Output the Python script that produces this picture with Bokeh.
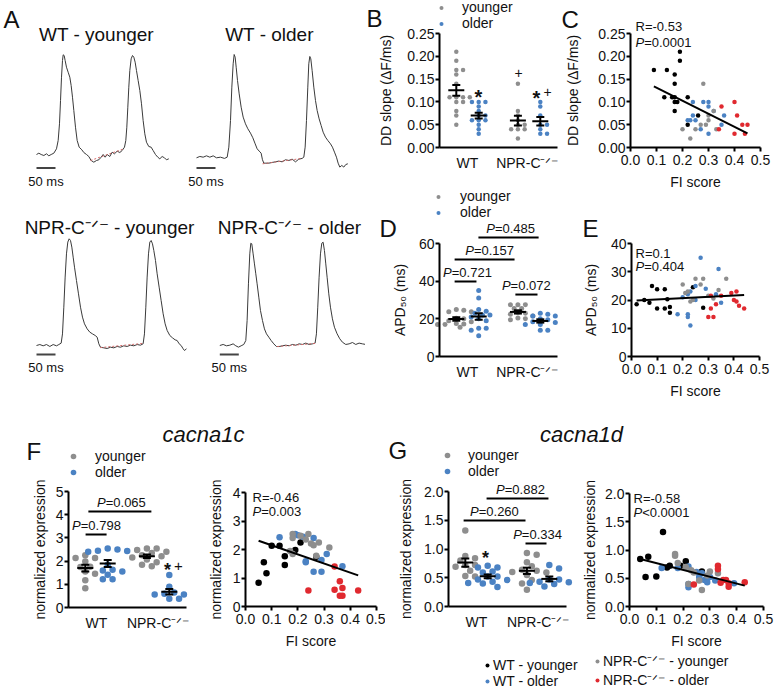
import numpy as np
from bokeh.plotting import figure
from bokeh.models import (Range1d, FixedTicker, Label, Legend, LegendItem,
                          LinearAxis, NumeralTickFormatter)
from bokeh.layouts import row, column
from bokeh.embed import file_html
from bokeh.resources import INLINE

FONT = "Liberation Sans"
INK = "#111111"
TRACE_C = "#3a3a3a"
FIT_C = "#d46a6a"
GRAY = "#8e8e8e"
BLUE = "#4b82c3"
RED = "#e0292f"
BLACK = "#000000"
NPR = "NPR-C\u207b\u141f\u207b"

# ---------------- data ----------------
# Panel A: example Ca2+ transients, (time in ms, normalized fluorescence)
trace_wt_young = [(0, 0), (6.1, 0.013), (12.3, 0), (19.3, -0.01), (26.3, 0.007), (32.4, -0.013), (38.6, 0),
                  (45.6, 0.013), (52.6, 0.057), (57.0, 0.14), (60.5, 0.307), (63.2, 0.54), (65.8, 0.773),
                  (68.4, 0.94), (70.2, 0.997), (72.8, 0.99), (75.4, 0.94), (78.9, 0.873), (83.3, 0.823),
                  (87.7, 0.773), (91.2, 0.69), (94.7, 0.573), (98.2, 0.44), (102.6, 0.273), (107.0, 0.14),
                  (112.3, 0.073), (119.3, 0.047), (124.5, 0.02), (131.6, 0), (137.7, -0.02), (143.8, -0.06),
                  (150.8, -0.077), (157.9, -0.06), (164.0, -0.053), (170.1, -0.027), (175.4, 0), (180.7, -0.027),
                  (185.9, 0), (192.9, -0.02), (199.1, 0.023), (205.2, 0.007), (212.2, 0.033), (219.3, 0.02),
                  (225.4, 0.04), (231.5, 0.073), (235.0, 0.14), (237.7, 0.273), (240.3, 0.473), (242.9, 0.673),
                  (245.6, 0.84), (249.1, 0.957), (252.6, 0.99), (256.1, 0.973), (259.6, 0.923), (263.1, 0.84),
                  (267.5, 0.74), (271.9, 0.64), (276.3, 0.507), (280.6, 0.34), (285.0, 0.207), (289.4, 0.123),
                  (295.5, 0.08), (301.7, 0.073), (306.9, 0.04), (313.1, 0), (319.2, -0.027), (324.5, -0.043),
                  (330.6, -0.02), (336.8, -0.033), (342.0, -0.053), (348.2, -0.043)]
trace_wt_old = [(0, 0), (8.8, 0.013), (17.5, 0.006), (26.3, 0.019), (35.1, 0.006), (43.9, 0.019), (52.6, 0),
                (63.1, 0.006), (73.7, -0.006), (80.7, 0.006), (85.1, 0.103), (89.5, 0.361), (93.0, 0.684),
                (96.5, 0.91), (99.1, 1.0), (101.7, 0.974), (104.4, 0.877), (107.9, 0.748), (112.3, 0.619),
                (117.5, 0.49), (122.8, 0.394), (128.9, 0.329), (135.1, 0.281), (142.1, 0.239), (148.2, 0.194),
                (154.4, 0.135), (159.6, 0.087), (164.9, 0.065), (170.1, 0.045), (173.6, -0.019), (177.2, -0.052),
                (182.4, -0.052), (190.3, -0.052), (199.1, -0.045), (207.8, -0.039), (216.6, -0.032),
                (225.4, -0.039), (234.2, -0.019), (242.9, -0.026), (251.7, -0.013), (260.5, -0.039),
                (269.2, -0.013), (278.0, -0.006), (282.4, 0.006), (285.9, 0.103), (289.4, 0.361), (292.9, 0.684),
                (295.5, 0.91), (298.2, 0.981), (300.8, 0.958), (304.3, 0.845), (308.7, 0.684), (313.1, 0.555),
                (317.5, 0.458), (322.7, 0.377), (328.0, 0.313), (333.3, 0.248), (339.4, 0.2), (345.5, 0.168),
                (352.6, 0.135), (357.8, 0.103), (363.1, 0.055), (368.3, 0.006), (372.7, -0.052), (377.1, -0.09),
                (382.4, -0.074), (387.6, -0.09), (392.9, -0.065), (398.2, -0.058)]
trace_npr_young = [(0, 0), (8.8, 0.009), (17.5, -0.003), (26.3, 0.009), (35.1, -0.009), (43.9, 0.009),
                   (52.6, -0.003), (58.8, 0.009), (64.9, 0.022), (68.4, 0.109), (71.9, 0.359), (75.4, 0.641),
                   (78.9, 0.859), (82.4, 0.969), (85.9, 1.0), (89.5, 0.984), (93.0, 0.922), (96.5, 0.828),
                   (100.0, 0.734), (105.2, 0.609), (110.5, 0.484), (115.8, 0.359), (121.0, 0.266), (126.3, 0.203),
                   (133.3, 0.156), (140.3, 0.125), (147.3, 0.109), (154.4, 0.094), (159.6, 0.078), (164.0, 0.016),
                   (168.4, -0.016), (177.2, -0.022), (185.9, -0.028), (194.7, -0.016), (203.5, -0.022),
                   (212.2, -0.009), (221.0, -0.016), (229.8, -0.003), (238.5, -0.009), (247.3, 0.003),
                   (256.1, -0.003), (264.9, 0.009), (273.6, 0.003), (280.6, 0.016), (284.1, 0.109), (287.7, 0.359),
                   (291.2, 0.641), (294.7, 0.859), (298.2, 0.969), (301.7, 0.984), (305.2, 0.953), (308.7, 0.891),
                   (313.1, 0.797), (317.5, 0.672), (322.7, 0.547), (328.0, 0.422), (333.3, 0.297), (338.5, 0.203),
                   (343.8, 0.141), (350.8, 0.094), (357.8, 0.072), (364.8, 0.053), (370.1, 0.047), (375.4, 0.016),
                   (380.6, 0), (385.9, -0.031), (389.4, -0.047), (394.7, -0.031)]
trace_npr_old = [(0, 0), (8.8, 0.01), (17.5, -0.003), (26.3, 0.003), (35.1, 0.016), (42.1, -0.003), (49.1, -0.016),
                 (56.1, -0.003), (63.1, 0.01), (68.4, 0.048), (71.9, 0.242), (75.4, 0.597), (78.9, 0.887),
                 (81.6, 0.99), (84.2, 0.984), (87.7, 0.887), (91.2, 0.79), (94.7, 0.694), (98.2, 0.597),
                 (102.6, 0.468), (107.0, 0.339), (112.3, 0.242), (117.5, 0.161), (122.8, 0.113), (128.9, 0.081),
                 (135.1, 0.048), (142.1, 0.016), (149.1, -0.01), (156.1, -0.01), (164.9, -0.003), (173.6, 0.003),
                 (182.4, -0.003), (191.2, 0.01), (200.0, 0.003), (208.7, 0.016), (217.5, 0.01), (226.3, 0.023),
                 (235.0, 0.01), (243.8, 0.016), (250.8, 0.023), (254.3, 0.113), (257.8, 0.371), (261.3, 0.661),
                 (264.9, 0.887), (268.4, 0.99), (271.9, 1.0), (275.4, 0.919), (278.9, 0.79), (282.4, 0.661),
                 (286.8, 0.5), (291.2, 0.371), (296.4, 0.258), (301.7, 0.177), (308.7, 0.113), (315.7, 0.065),
                 (322.7, 0.032), (331.5, 0.01), (340.3, 0.016), (349.1, 0.029), (357.8, 0.01), (366.6, 0.023),
                 (375.4, 0.016), (384.1, 0.01)]
# diastolic depolarization fits (dashed overlays)
ddfit_wt_young = [(142, -0.06), (230, 0.057)]
ddfit_wt_old = [(174, -0.058), (278, -0.006)]
ddfit_npr_young = [(168, -0.02), (281, 0.02)]
ddfit_npr_old = [(151, -0.01), (251, 0.02)]

trace_titles = ["WT - younger", "WT - older", NPR + " - younger", NPR + " - older"]
genotypes = ["WT", NPR]

# Panels B/C: DD slope (dF/ms) and FI score per group
dd_wt_young = [0.17, 0.17, 0.16, 0.14, 0.21, 0.19, 0.11, 0.11, 0.11, 0.10, 0.08, 0.10, 0.11, 0.05, 0.07]
fi_dd_wt_young = [0.09, 0.14, 0.17, 0.17, 0.19, 0.19, 0.13, 0.16, 0.17, 0.18, 0.17, 0.17, 0.22, 0.22, 0.26]
dd_wt_old = [0.10, 0.10, 0.10, 0.09, 0.08, 0.07, 0.06, 0.06, 0.04, 0.03, 0.05, 0.07, 0.06]
fi_dd_wt_old = [0.24, 0.28, 0.30, 0.30, 0.32, 0.24, 0.23, 0.25, 0.27, 0.30, 0.35, 0.36, 0.22]
dd_npr_young = [0.14, 0.04, 0.02, 0.04, 0.05, 0.06, 0.08, 0.04, 0.07, 0.05]
fi_dd_npr_young = [0.28, 0.20, 0.23, 0.25, 0.29, 0.30, 0.32, 0.33, 0.30, 0.27]
dd_npr_old = [0.09, 0.10, 0.07, 0.05, 0.05, 0.03, 0.03, 0.04]
fi_dd_npr_old = [0.35, 0.40, 0.41, 0.43, 0.45, 0.40, 0.44, 0.34]
dd_stats = ["R=-0.53", "0.0001"]

# Panels D/E: APD50 (ms)
apd_wt_young = [18.5, 20, 19, 25, 23.8, 17, 23.8, 17, 20.3, 17.5, 15.5, 24.5, 17.3]
fi_apd_wt_young = [0.02, 0.05, 0.07, 0.08, 0.10, 0.10, 0.13, 0.13, 0.14, 0.15, 0.15, 0.24, 0.28]
apd_wt_old = [35, 31, 25, 24, 23, 22, 22, 21, 20, 19, 15, 15, 14, 11]
fi_apd_wt_old = [0.27, 0.34, 0.25, 0.29, 0.23, 0.22, 0.33, 0.20, 0.25, 0.35, 0.22, 0.18, 0.22, 0.23]
apd_npr_young = [25.5, 27.5, 27.5, 25.5, 23.5, 27.5, 23, 20, 21.5, 20.5, 22.5, 19.5]
fi_apd_npr_young = [0.20, 0.25, 0.28, 0.27, 0.34, 0.37, 0.22, 0.24, 0.30, 0.32, 0.21, 0.23]
apd_npr_old = [14, 14, 17, 18.5, 21.5, 22.5, 23, 20, 19.5, 18, 17, 21.5]
fi_apd_npr_old = [0.30, 0.32, 0.31, 0.33, 0.35, 0.39, 0.41, 0.40, 0.41, 0.42, 0.44, 0.31]
apd_pvalues = ["0.485", "0.157", "0.721", "0.072"]
apd_stats = ["R=0.1", "0.404"]

# Panel F: cacna1c normalized expression
c1c_wt_young = [0.83, 1.55, 1.17, 2.13, 2.13, 1.46, 1.76, 1.98, 2.25, 1.75]
fi_c1c_wt_young = [0.05, 0.07, 0.08, 0.10, 0.13, 0.15, 0.15, 0.19, 0.21, 0.27]
c1c_wt_old = [2.43, 2.54, 2.45, 2.40, 1.59, 1.22, 1.63, 1.22, 1.84, 1.41, 1.55, 2.50]
fi_c1c_wt_old = [0.13, 0.19, 0.22, 0.26, 0.23, 0.26, 0.29, 0.29, 0.31, 0.37, 0.23, 0.20]
c1c_npr_young = [2.54, 2.40, 1.84, 2.54, 2.21, 1.78, 2.25, 2.07, 2.48, 2.35, 2.15, 1.95]
fi_c1c_npr_young = [0.18, 0.18, 0.18, 0.24, 0.25, 0.27, 0.28, 0.32, 0.21, 0.23, 0.26, 0.17]
c1c_npr_old = [0.56, 1.40, 0.59, 0.89, 0.65, 0.38, 0.38, 0.56]
fi_c1c_npr_old = [0.24, 0.34, 0.34, 0.36, 0.37, 0.36, 0.37, 0.43]
c1c_pvalues = ["0.065", "0.798"]
c1c_stats = ["R=-0.46", "0.003"]

# Panel G: cacna1d normalized expression
c1d_wt_young = [0.84, 0.52, 0.88, 0.53, 1.32, 0.69, 0.72, 0.72, 0.80, 0.62]
fi_c1d_wt_young = [0.04, 0.06, 0.07, 0.10, 0.125, 0.14, 0.15, 0.19, 0.21, 0.27]
c1d_wt_old = [0.68, 0.68, 0.71, 0.40, 0.34, 0.61, 0.52, 0.59, 0.47, 0.43, 0.52, 0.46, 0.41]
fi_c1d_wt_old = [0.12, 0.18, 0.22, 0.22, 0.22, 0.25, 0.26, 0.27, 0.28, 0.29, 0.30, 0.32, 0.39]
c1d_npr_young = [0.93, 0.90, 0.77, 0.64, 0.46, 0.29, 0.59, 0.60, 0.70, 0.55, 0.40, 0.62]
fi_c1d_npr_young = [0.17, 0.17, 0.18, 0.23, 0.26, 0.27, 0.33, 0.24, 0.21, 0.29, 0.22, 0.30]
c1d_npr_old = [0.39, 0.72, 0.66, 0.47, 0.47, 0.41, 0.35, 0.43, 0.42]
fi_c1d_npr_old = [0.24, 0.33, 0.33, 0.35, 0.36, 0.37, 0.37, 0.43, 0.34]
c1d_pvalues = ["0.882", "0.260", "0.334"]
c1d_stats = ["R=-0.58", "<0.0001"]

group_names = ["WT - younger", "WT - older", NPR + " - younger", NPR + " - older"]
gene_titles = ["cacna1c", "cacna1d"]

# ---------------- helpers ----------------
POS = [0.6, 1.4, 2.8, 3.6]
GEN_POS = [1.0, 3.2]
CW = {'P': 0.667, 'R': 0.722, '=': 0.584, '<': 0.584, '-': 0.333, '.': 0.278}
LETTER = 24


def text_w(s, size):
    return size * sum(CW.get(ch, 0.556) for ch in s)


def panel(box, specs):
    """One figure whose frame fills the box; each spec (anchor, scale) defines a sub-plot coordinate system.
    anchor maps reference pixel (ax, ay) to data (x0, y0)."""
    L, T, W, H = box
    subs = []
    for i, (anchor, scale) in enumerate(specs):
        ax_ref, ay_ref, x0, y0 = anchor
        xs, ys = scale
        xr = Range1d(x0 + (L - ax_ref) / xs, x0 + (L + W - ax_ref) / xs)
        yr = Range1d(y0 + (ay_ref - T - H) / ys, y0 + (ay_ref - T) / ys)
        tx = (lambda a, b, c: (lambda rx: b + (rx - a) / c))(ax_ref, x0, xs)
        ty = (lambda a, b, c: (lambda ry: b + (a - ry) / c))(ay_ref, y0, ys)
        subs.append(dict(rn="default" if i == 0 else f"r{i}", xr=xr, yr=yr, tx=tx, ty=ty, scale=scale))
    p = figure(width=W, height=H, output_backend="svg", toolbar_location=None,
               x_range=subs[0]["xr"], y_range=subs[0]["yr"],
               x_axis_location=None, y_axis_location=None, min_border=0)
    if len(subs) > 1:
        p.extra_x_ranges = {s["rn"]: s["xr"] for s in subs[1:]}
        p.extra_y_ranges = {s["rn"]: s["yr"] for s in subs[1:]}
    p.outline_line_color = None
    p.grid.visible = False
    p.background_fill_color = "white"
    p.border_fill_color = "white"
    for s in subs:
        s["p"] = p
    return p, subs


def rk(s):
    return dict(x_range_name=s["rn"], y_range_name=s["rn"])


def txt(s, x, y, text, size=14, align="left", style="normal", xoff=0):
    s["p"].add_layout(Label(x=x, y=y, text=text, text_font=FONT, text_font_size=f"{size}px",
                            text_align=align, text_baseline="middle", text_font_style=style,
                            text_color=INK, x_offset=xoff, **rk(s)))


def ptext(s, x, y, rest, size=13, align="center"):
    wp = 0.667 * size
    wr = text_w(rest, size)
    start = -(wp + wr) / 2 if align == "center" else 0
    txt(s, x, y, "P", size, "left", style="italic", xoff=start)
    txt(s, x, y, rest, size, "left", xoff=start + wp)


def add_axes(s, xticks, xbounds, yticks, ybounds, yfmt=None, xfmt=None, xlabel=None, ylabel=None,
             ylab_so=8, xlab_so=6, xoverrides=None):
    ya = LinearAxis(ticker=FixedTicker(ticks=yticks), bounds=ybounds, fixed_location=xbounds[0], **rk(s))
    xa = LinearAxis(ticker=FixedTicker(ticks=xticks), bounds=xbounds, fixed_location=ybounds[0], **rk(s))
    if ylabel:
        ya.axis_label = ylabel
    if xlabel:
        xa.axis_label = xlabel
    if yfmt:
        ya.formatter = NumeralTickFormatter(format=yfmt)
    if xfmt:
        xa.formatter = NumeralTickFormatter(format=xfmt)
    for ax in (xa, ya):
        ax.axis_line_width = 2
        ax.axis_line_color = "black"
        ax.major_tick_line_width = 2
        ax.major_tick_line_color = "black"
        ax.major_tick_in = 0
        ax.major_tick_out = 4
        ax.minor_tick_line_color = None
        ax.major_label_text_font = FONT
        ax.major_label_text_font_size = "14px"
        ax.major_label_text_color = INK
        ax.axis_label_text_font = FONT
        ax.axis_label_text_font_size = "14px"
        ax.axis_label_text_font_style = "normal"
        ax.axis_label_text_color = INK
    ya.major_label_standoff = 1
    ya.axis_label_standoff = int(ylab_so)
    xa.major_label_standoff = 3
    xa.axis_label_standoff = int(xlab_so)
    if xoverrides:
        xa.major_label_overrides = xoverrides
        xa.major_tick_line_color = None
    s["p"].add_layout(ya, "left")
    s["p"].add_layout(xa, "below")


def swarm(v, ys, d):
    v = np.asarray(v, float)
    py = v * ys
    offs = np.zeros(len(v))
    placed = []
    step = d * 0.75
    for i in np.argsort(-v, kind="stable"):
        c = 0.0
        for k in range(60):
            c = ((k + 1) // 2) * (1 if k % 2 else -1) * step
            if all((c - ox) ** 2 + (py[i] - oy) ** 2 >= (0.95 * d) ** 2 for ox, oy in placed):
                break
        offs[i] = c
        placed.append((c, py[i]))
    return offs


def draw_groups(s, vals, dot):
    p = s["p"]
    xs, ys = s["scale"]
    rs = []
    for color, idx in ((GRAY, (0, 2)), (BLUE, (1, 3))):
        xx, yy = [], []
        for i in idx:
            off = swarm(vals[i], ys, dot) / xs
            xx.extend(POS[i] + off)
            yy.extend(vals[i])
        rs.append(p.scatter(xx, yy, size=dot, fill_color=color, line_color=None, **rk(s)))
    means = np.array([np.mean(v) for v in vals])
    sems = np.array([np.std(v, ddof=1) / np.sqrt(len(v)) for v in vals])
    pos = np.array(POS)
    hw, cw = 8 / xs, 4 / xs
    kw = dict(line_color="black", line_width=2, **rk(s))
    p.segment(x0=pos - hw, y0=means, x1=pos + hw, y1=means, **kw)
    p.segment(x0=pos, y0=means - sems, x1=pos, y1=means + sems, **kw)
    p.segment(x0=pos - cw, y0=means + sems, x1=pos + cw, y1=means + sems, **kw)
    p.segment(x0=pos - cw, y0=means - sems, x1=pos + cw, y1=means - sems, **kw)
    return rs


def make_legend(p, labels, rs, vx, vy, gw, so, rh, size=14):
    lg = Legend(items=[LegendItem(label=l, renderers=[r]) for l, r in zip(labels, rs)],
                location=(vx, vy), orientation="vertical", padding=0, margin=0, spacing=0,
                glyph_width=int(gw), glyph_height=int(rh), label_height=int(rh), label_standoff=int(round(so)),
                label_text_font=FONT, label_text_font_size=f"{size}px", label_text_color=INK,
                border_line_color=None, background_fill_alpha=0)
    p.add_layout(lg)


def draw_fi(s, fis, vals, dot):
    p = s["p"]
    rs = []
    for f, v, c in zip(fis, vals, [BLACK, BLUE, GRAY, RED]):
        rs.append(p.scatter(f, v, size=dot, fill_color=c, line_color=None, **rk(s)))
    allf = np.concatenate([np.asarray(f, float) for f in fis])
    allv = np.concatenate([np.asarray(v, float) for v in vals])
    k, b = np.polyfit(allf, allv, 1)
    xl = np.array([allf.min(), allf.max()])
    p.line(xl, k * xl + b, line_color="black", line_width=2, **rk(s))
    return rs


def bracket(s, x0, x1, y, pv, tx_center, size=13):
    s["p"].segment(x0=[x0], y0=[y], x1=[x1], y1=[y], line_color="black", line_width=2, **rk(s))
    ptext(s, tx_center, y + 9 / s["scale"][1], "=" + pv, size)


FI_TICKS = [0, 0.1, 0.2, 0.3, 0.4, 0.5]
GEN_OVR = {GEN_POS[0]: genotypes[0], GEN_POS[1]: genotypes[1]}


# ---------------- Panel A: traces ----------------
def trace_panel(box, anchor, scale, trace, fit, title, title_xy, bar_y, lab_y, letter=None):
    p, (s,) = panel(box, [(anchor, scale)])
    tx, ty = s["tx"], s["ty"]
    t, f = zip(*trace)
    p.line(list(t), list(f), line_color=TRACE_C, line_width=1)
    ft, ff = zip(*fit)
    p.line(list(ft), list(ff), line_color=FIT_C, line_width=1, line_dash="2 2")
    p.segment(x0=[0], y0=[ty(bar_y)], x1=[50], y1=[ty(bar_y)], line_color="#444444", line_width=2)
    txt(s, 25, ty(lab_y), "50 ms", 13, "center")
    txt(s, tx(title_xy[0]), ty(title_xy[1]), title, 19, "center")
    if letter:
        txt(s, tx(letter[1]), ty(letter[2]), letter[0], LETTER)
    return p

T1 = trace_panel((0, 0, 180, 196), (36, 154, 0, 0), (0.38, 100), trace_wt_young, ddfit_wt_young,
                 trace_titles[0], (96, 34), 167.5, 181, ("A", 3, 19))
T2 = trace_panel((180, 0, 185, 196), (196, 157.3, 0, 0), (0.38, 103.3), trace_wt_old, ddfit_wt_old,
                 trace_titles[1], (269, 34), 167.5, 181)
T3 = trace_panel((0, 196, 196, 224), (36, 345, 0, 0), (0.38, 106.7), trace_npr_young, ddfit_npr_young,
                 trace_titles[2], (109, 227), 354, 367)
T4 = trace_panel((196, 196, 169, 224), (219.3, 345, 0, 0), (0.38, 103.3), trace_npr_old, ddfit_npr_old,
                 trace_titles[3], (289, 227), 354, 367)

# ---------------- Panel B ----------------
B, (s,) = panel((365, 0, 193, 188), [((439, 147, 0, 0), (28, 456))])
tx, ty = s["tx"], s["ty"]
rs = draw_groups(s, [dd_wt_young, dd_wt_old, dd_npr_young, dd_npr_old], 4.5)
add_axes(s, GEN_POS, (0, 4.2), [0, 0.05, 0.10, 0.15, 0.20, 0.25], (0, 0.25), yfmt="0.00",
         ylabel="DD slope (\u0394F/ms)", ylab_so=10, xoverrides=GEN_OVR)
make_legend(B, ["younger", "older"], rs, 441 - 5 - 365, 188 - 31, 10, 16, 15)
txt(s, tx(478), ty(96), "*", 20, "center", style="bold")
txt(s, tx(518), ty(72), "+", 14, "center")
txt(s, tx(536), ty(97), "*", 20, "center", style="bold")
txt(s, tx(547), ty(91), "+", 14, "center")
txt(s, tx(366), ty(18), "B", LETTER)

# ---------------- Panel C ----------------
C, (s,) = panel((558, 0, 218, 196), [((630, 147, 0, 0), (260, 456))])
tx, ty = s["tx"], s["ty"]
draw_fi(s, [fi_dd_wt_young, fi_dd_wt_old, fi_dd_npr_young, fi_dd_npr_old],
        [dd_wt_young, dd_wt_old, dd_npr_young, dd_npr_old], 4.5)
add_axes(s, FI_TICKS, (0, 0.5), [0, 0.05, 0.10, 0.15, 0.20, 0.25], (0, 0.25), yfmt="0.00", xfmt="0.0",
         xlabel="FI score", ylabel="DD slope (\u0394F/ms)", ylab_so=14, xlab_so=6)
txt(s, tx(635), ty(26), dd_stats[0], 13)
ptext(s, tx(635), ty(42), "=" + dd_stats[1], 13, align="left")
txt(s, tx(561), ty(19), "C", LETTER)

# ---------------- Panel D ----------------
D, (s,) = panel((365, 188, 193, 232), [((439, 356, 0, 0), (28, 113 / 60))])
tx, ty = s["tx"], s["ty"]
rs = draw_groups(s, [apd_wt_young, apd_wt_old, apd_npr_young, apd_npr_old], 5)
add_axes(s, GEN_POS, (0, 4.2), [0, 20, 40, 60], (0, 60), ylabel="APD\u2085\u2080 (ms)", ylab_so=8,
         xoverrides=GEN_OVR)
make_legend(D, ["younger", "older"], rs, 438 - 5 - 365, 420 - 220, 10, 17, 15)
bracket(s, 1.39, 3.54, 63.2, apd_pvalues[0], 2.54)
bracket(s, 0.54, 2.68, 51.5, apd_pvalues[1], 1.79)
bracket(s, 0.54, 1.32, 39.8, apd_pvalues[2], 1.0)
bracket(s, 2.71, 3.50, 32.9, apd_pvalues[3], 3.1)
txt(s, tx(379), ty(228), "D", LETTER)

# ---------------- Panel E ----------------
E, (s,) = panel((558, 196, 218, 224), [((631, 356, 0, 0), (256, 113 / 40))])
tx, ty = s["tx"], s["ty"]
draw_fi(s, [fi_apd_wt_young, fi_apd_wt_old, fi_apd_npr_young, fi_apd_npr_old],
        [apd_wt_young, apd_wt_old, apd_npr_young, apd_npr_old], 4.5)
add_axes(s, FI_TICKS, (0, 0.5), [0, 10, 20, 30, 40], (0, 40), xfmt="0.0",
         xlabel="FI score", ylabel="APD\u2085\u2080 (ms)", ylab_so=9, xlab_so=6)
txt(s, tx(635), ty(253), apd_stats[0], 13)
ptext(s, tx(635), ty(266), "=" + apd_stats[1], 13, align="left")
txt(s, tx(582), ty(228), "E", LETTER)

# ---------------- Panel F (cacna1c): group plot + FI correlation in one figure ----------------
FF, (sl, sr) = panel((0, 420, 385, 270), [((68, 607, 0, 0), (28, 23.2)), ((245, 606, 0, 0), (262, 28.5))])
tx, ty = sl["tx"], sl["ty"]
rs = draw_groups(sl, [c1c_wt_young, c1c_wt_old, c1c_npr_young, c1c_npr_old], 6.5)
add_axes(sl, GEN_POS, (0, 4.2), [0, 1, 2, 3, 4, 5], (0, 5), ylabel="normalized expression", ylab_so=5,
         xoverrides=GEN_OVR)
make_legend(FF, ["younger", "older"], rs, 73 - 8, 690 - 480, 16, 14, 14)
bracket(sl, 0.71, 2.96, 4.14, c1c_pvalues[0], 1.89)
bracket(sl, 0.61, 1.36, 3.15, c1c_pvalues[1], 1.0)
txt(sl, tx(167), ty(569), "*", 18, "center", style="bold")
txt(sl, tx(178), ty(565), "+", 15, "center")
txt(sl, tx(26), ty(451), "F", LETTER)
txt(sl, tx(203), ty(434), gene_titles[0], 22, "center", style="italic")

draw_fi(sr, [fi_c1c_wt_young, fi_c1c_wt_old, fi_c1c_npr_young, fi_c1c_npr_old],
        [c1c_wt_young, c1c_wt_old, c1c_npr_young, c1c_npr_old], 6.5)
add_axes(sr, FI_TICKS, (0, 0.5), [0, 1, 2, 3, 4], (0, 4), xfmt="0.0",
         xlabel="FI score", ylabel="normalized expression", ylab_so=6, xlab_so=6)
txt(sr, sr["tx"](252), sr["ty"](497), c1c_stats[0], 13)
ptext(sr, sr["tx"](252), sr["ty"](511), "=" + c1c_stats[1], 13, align="left")

# ---------------- Panel G (cacna1d) + shared group legend ----------------
GG, (sl, sr) = panel((385, 420, 391, 270), [((448, 606, 0, 0), (28, 57.5)), ((629, 606, 0, 0), (268, 56.5))])
tx, ty = sl["tx"], sl["ty"]
rs = draw_groups(sl, [c1d_wt_young, c1d_wt_old, c1d_npr_young, c1d_npr_old], 6.5)
add_axes(sl, GEN_POS, (0, 4.2), [0, 0.5, 1.0, 1.5, 2.0], (0, 2.0), yfmt="0.0",
         ylabel="normalized expression", ylab_so=7, xoverrides=GEN_OVR)
make_legend(GG, ["younger", "older"], rs, 447 - 8 - 385, 690 - 479, 16, 13, 14)
bracket(sl, 1.36, 3.57, 1.878, c1d_pvalues[0], 2.57)
bracket(sl, 0.54, 2.75, 1.496, c1d_pvalues[1], 1.64)
bracket(sl, 2.75, 3.50, 1.096, c1d_pvalues[2], 3.18)
txt(sl, tx(485), ty(557), "*", 18, "center", style="bold")
txt(sl, tx(388), ty(450), "G", LETTER)
txt(sl, tx(581), ty(434), gene_titles[1], 22, "center", style="italic")

grs = draw_fi(sr, [fi_c1d_wt_young, fi_c1d_wt_old, fi_c1d_npr_young, fi_c1d_npr_old],
              [c1d_wt_young, c1d_wt_old, c1d_npr_young, c1d_npr_old], 6.5)
add_axes(sr, FI_TICKS, (0, 0.5), [0, 0.5, 1.0, 1.5, 2.0], (0, 2.0), yfmt="0.0", xfmt="0.0",
         xlabel="FI score", ylabel="normalized expression", ylab_so=4, xlab_so=6)
txt(sr, sr["tx"](633), sr["ty"](498), c1d_stats[0], 13)
ptext(sr, sr["tx"](633), sr["ty"](512), c1d_stats[1], 13, align="left")
# shared legend for the four groups (C, E, F, G correlation plots)
make_legend(GG, group_names[:2], grs[:2], 487 - 5 - 385, 1, 10, 1, 16)
make_legend(GG, group_names[2:], grs[2:], 597 - 5 - 385, 1, 10, 1, 16)

top = row(column(row(T1, T2), row(T3, T4)), column(B, D), column(C, E))
bottom = row(FF, GG)
layout = column(top, bottom)

with open("out.html", "w") as fh:
    fh.write(file_html(layout, INLINE, title="Figure"))
